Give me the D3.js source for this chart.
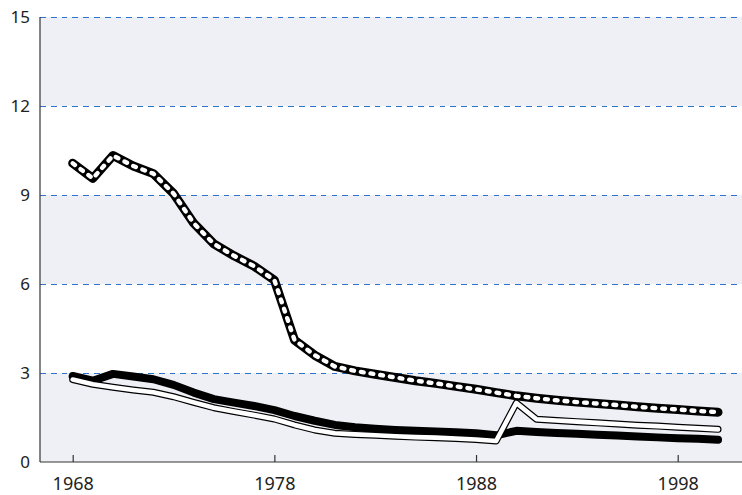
<!DOCTYPE html>
<html>
<head>
<meta charset="utf-8">
<script src="https://cdn.jsdelivr.net/npm/d3@7/dist/d3.min.js"></script>
<style>
  html, body { margin: 0; padding: 0; background: #fff; }
  svg { display: block; }
  text { font-family: "Noto Sans", "Open Sans", sans-serif; fill: #222; }
</style>
</head>
<body>
<svg id="chart" width="742" height="495"></svg>
<script>
// Years covered by every series
const years = d3.range(1968, 2001);

// Upper series (black with white dots)
const seriesDotted = [10.07, 9.56, 10.33, 9.98, 9.72, 9.05, 8.05, 7.35, 6.95, 6.6, 6.13,
  4.11, 3.6, 3.22, 3.07, 2.96, 2.85, 2.74, 2.65, 2.55, 2.45, 2.34,
  2.23, 2.15, 2.08, 2.02, 1.97, 1.92, 1.86, 1.81, 1.77, 1.72, 1.68];

// Middle series (white line, black outline)
const seriesWhite = [2.78, 2.62, 2.52, 2.43, 2.35, 2.2, 2.01, 1.83, 1.7, 1.58, 1.45,
  1.25, 1.08, 0.97, 0.93, 0.9, 0.87, 0.84, 0.82, 0.79, 0.76, 0.71,
  1.99, 1.44, 1.4, 1.36, 1.32, 1.28, 1.24, 1.21, 1.17, 1.14, 1.1];

// Lower series (thick black line)
const seriesBlack = [2.9, 2.74, 2.97, 2.88, 2.79, 2.6, 2.34, 2.12, 2.0, 1.89, 1.75,
  1.55, 1.39, 1.25, 1.17, 1.12, 1.08, 1.05, 1.03, 1.0, 0.97, 0.9,
  1.05, 1.01, 0.98, 0.95, 0.92, 0.89, 0.86, 0.83, 0.8, 0.78, 0.75];

const yTicks = [0, 3, 6, 9, 12, 15];
const xTicks = [1968, 1978, 1988, 1998];

const plot = { left: 40, right: 742, top: 17, bottom: 462 };

const svg = d3.select("#chart");

const x = d3.scaleLinear().domain([1968, 1998]).range([72.7, 677.7]);
const y = d3.scaleLinear().domain([0, 15]).range([plot.bottom, plot.top]);

// Alternating horizontal bands
const bands = d3.pairs(yTicks);
svg.append("g").selectAll("rect")
  .data(bands)
  .join("rect")
  .attr("x", plot.left)
  .attr("width", plot.right - plot.left)
  .attr("y", d => y(d[1]))
  .attr("height", d => y(d[0]) - y(d[1]))
  .attr("fill", (d, i) => i % 2 === 0 ? "#eef0f5" : "#ffffff");

// Dashed gridlines
svg.append("g").selectAll("line")
  .data(yTicks.filter(v => v > 0))
  .join("line")
  .attr("x1", plot.left)
  .attr("x2", plot.right)
  .attr("y1", d => y(d) + 0.5)
  .attr("y2", d => y(d) + 0.5)
  .attr("stroke", "#2f74cc")
  .attr("stroke-width", 1.2)
  .attr("shape-rendering", "crispEdges")
  .attr("stroke-dasharray", "5.7,5.1");

// Y axis labels (no tick marks)
const yAxis = svg.append("g")
  .attr("transform", `translate(${plot.left},0)`)
  .call(d3.axisLeft(y).tickValues(yTicks).tickSize(0).tickPadding(10).tickFormat(d3.format("d")));
yAxis.select(".domain").remove();
yAxis.selectAll("text").attr("font-size", 17).attr("fill", "#222")
  .style("font-family", '"Noto Sans", sans-serif');

// Y axis line
svg.append("line")
  .attr("x1", plot.left).attr("x2", plot.left)
  .attr("y1", plot.top).attr("y2", plot.bottom)
  .attr("stroke", "#333").attr("stroke-width", 1.2);

// X axis: ticks point up into the plot
const xAxis = svg.append("g")
  .attr("transform", `translate(0,${plot.bottom})`)
  .call(d3.axisBottom(x).tickValues(xTicks).tickSize(0).tickPadding(0).tickFormat(d3.format("d")));
xAxis.select(".domain").remove();
xAxis.selectAll(".tick line")
  .attr("y1", -7).attr("y2", 0)
  .attr("stroke", "#333").attr("stroke-width", 1.2);
xAxis.selectAll(".tick text")
  .attr("y", 27.5)
  .attr("dy", 0)
  .attr("font-size", 18)
  .attr("fill", "#222")
  .style("font-family", '"Noto Sans", sans-serif');

svg.append("line")
  .attr("x1", plot.left).attr("x2", plot.right)
  .attr("y1", plot.bottom).attr("y2", plot.bottom)
  .attr("stroke", "#333").attr("stroke-width", 1.2);

// Line generator
const line = d3.line()
  .x((d, i) => x(years[i]))
  .y(d => y(d));

const lines = svg.append("g")
  .attr("fill", "none")
  .attr("stroke-linejoin", "round")
  .attr("stroke-linecap", "round");

// Lower series: solid thick black
lines.append("path")
  .attr("d", line(seriesBlack))
  .attr("stroke", "#000")
  .attr("stroke-width", 8);

// Middle series: white stroke with black casing
lines.append("path")
  .attr("d", line(seriesWhite))
  .attr("stroke", "#000")
  .attr("stroke-width", 7);
lines.append("path")
  .attr("d", line(seriesWhite))
  .attr("stroke", "#fff")
  .attr("stroke-width", 4.6);

// Upper series: black with white dots
lines.append("path")
  .attr("d", line(seriesDotted))
  .attr("stroke", "#000")
  .attr("stroke-width", 9);
lines.append("path")
  .attr("d", line(seriesDotted))
  .attr("stroke", "#fff")
  .attr("stroke-width", 4.4)
  .attr("stroke-dasharray", "2.8,7");
</script>
</body>
</html>
